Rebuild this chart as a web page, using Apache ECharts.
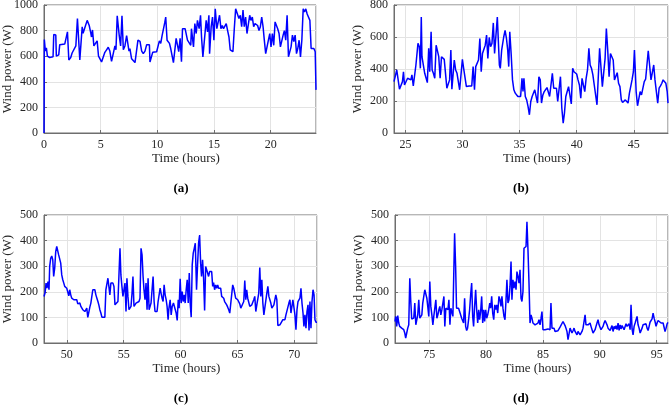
<!DOCTYPE html>
<html>
<head>
<meta charset="utf-8">
<script src="https://cdn.jsdelivr.net/npm/echarts@6/dist/echarts.min.js"></script>
<style>html,body{margin:0;padding:0;background:#fff;}#c{width:669px;height:410px;}</style>
</head>
<body>
<div id="c"></div>
<script>
// ---- DATA (hours, watts) ----
const seriesA = [[0,0],[0.03,730],[0.12,640],[0.21,665],[0.3,600],[0.5,590],[0.8,595],[0.86,770],[1.04,765],[1.09,600],[1.3,610],[1.39,690],[1.83,695],[1.92,700],[2.07,790],[2.19,570],[2.36,590],[2.48,625],[2.63,640],[2.81,680],[2.95,895],[3.07,890],[3.16,570],[3.25,580],[3.37,830],[3.45,780],[3.6,780],[3.81,880],[3.99,840],[4.13,780],[4.19,750],[4.28,805],[4.4,680],[4.55,690],[4.69,720],[4.81,600],[4.93,595],[5.08,555],[5.22,560],[5.37,630],[5.52,650],[5.67,670],[5.81,640],[5.96,560],[6.11,620],[6.26,680],[6.35,650],[6.46,915],[6.55,905],[6.64,760],[6.76,680],[6.88,915],[7.0,650],[7.14,680],[7.29,760],[7.38,760],[7.5,640],[7.58,660],[7.73,580],[7.88,570],[8.03,550],[8.17,560],[8.29,725],[8.47,715],[8.62,640],[8.76,620],[8.91,640],[9.06,690],[9.3,690],[9.35,555],[9.5,550],[9.59,630],[9.94,635],[10.09,640],[10.18,720],[10.3,700],[10.42,760],[10.53,770],[10.65,860],[10.74,905],[10.86,725],[10.92,720],[11.07,700],[11.18,660],[11.33,670],[11.42,550],[11.54,555],[11.66,740],[11.80,750],[11.89,635],[12.01,740],[12.13,557],[12.22,815],[12.45,815],[12.54,800],[12.66,725],[12.81,715],[12.95,685],[13.01,815],[13.10,815],[13.19,673],[13.31,855],[13.43,777],[13.54,880],[13.69,815],[13.81,920],[13.90,750],[14.02,595],[14.16,605],[14.31,880],[14.43,790],[14.55,920],[14.61,620],[14.75,830],[14.87,905],[14.99,725],[15.11,970],[15.25,815],[15.37,815],[15.49,920],[15.61,815],[15.73,840],[15.84,815],[15.96,800],[16.08,855],[16.20,800],[16.32,750],[16.43,650],[16.58,635],[16.67,635],[16.79,815],[16.91,970],[17.08,960],[17.20,895],[17.32,920],[17.44,830],[17.56,960],[17.67,830],[17.79,905],[17.91,777],[18.03,790],[18.15,920],[18.26,880],[18.38,905],[18.50,830],[18.62,855],[18.74,855],[18.85,840],[18.97,800],[19.09,830],[19.21,905],[19.33,830],[19.44,725],[19.56,620],[19.68,610],[19.80,725],[19.92,777],[20.03,673],[20.15,777],[20.27,685],[20.39,868],[20.51,868],[20.62,815],[20.74,777],[20.86,673],[20.98,660],[21.10,765],[21.21,800],[21.33,725],[21.45,920],[21.57,595],[21.69,595],[21.80,673],[21.92,765],[22.04,715],[22.16,765],[22.28,620],[22.39,660],[22.51,725],[22.63,595],[22.75,725],[22.87,970],[22.98,945],[23.10,970],[23.22,930],[23.34,945],[23.46,880],[23.57,660],[23.69,648],[23.81,660],[23.93,635],[24.0,337]];

const seriesB = [[24.0,321],[24.1,332],[24.24,394],[24.39,394],[24.48,274],[24.6,280],[24.74,321],[24.83,383],[24.92,300],[25.04,294],[25.19,342],[25.33,342],[25.48,332],[25.57,363],[25.69,294],[25.83,290],[25.92,425],[26.01,425],[26.1,560],[26.22,539],[26.31,404],[26.39,725],[26.45,477],[26.57,466],[26.69,373],[26.81,363],[26.92,315],[27.04,529],[27.13,383],[27.25,632],[27.34,394],[27.45,373],[27.57,342],[27.69,549],[27.81,549],[27.92,477],[28.04,342],[28.16,477],[28.28,466],[28.4,460],[28.51,460],[28.63,280],[28.75,280],[28.87,332],[28.98,518],[29.07,274],[29.16,280],[29.28,456],[29.4,394],[29.52,373],[29.63,363],[29.75,270],[29.87,270],[29.99,460],[30.1,404],[30.22,394],[30.34,290],[30.46,300],[30.58,294],[30.69,305],[30.81,294],[30.93,415],[31.05,270],[31.16,415],[31.28,404],[31.4,456],[31.52,591],[31.64,383],[31.75,497],[31.87,497],[31.99,549],[32.11,612],[32.22,466],[32.34,597],[32.46,539],[32.58,560],[32.7,688],[32.81,497],[33.05,725],[33.23,425],[33.31,404],[33.43,518],[33.61,600],[33.73,642],[33.85,591],[33.96,518],[34.05,415],[34.14,632],[34.26,497],[34.38,332],[34.5,270],[34.62,249],[34.73,249],[34.85,228],[34.97,218],[35.09,228],[35.21,342],[35.3,259],[35.38,342],[35.5,228],[35.62,207],[35.74,166],[35.86,114],[35.98,197],[36.1,228],[36.21,228],[36.33,270],[36.45,270],[36.57,187],[36.69,352],[36.81,332],[36.92,187],[37.04,238],[37.16,259],[37.28,270],[37.4,284],[37.51,280],[37.63,228],[37.75,228],[37.87,373],[37.99,280],[38.11,280],[38.23,280],[38.34,197],[38.46,187],[38.58,352],[38.7,155],[38.82,62],[38.93,124],[39.05,228],[39.17,259],[39.29,290],[39.41,284],[39.53,182],[39.65,404],[39.76,383],[39.88,373],[40.0,369],[40.12,332],[40.24,300],[40.36,218],[40.47,342],[40.59,300],[40.71,259],[40.83,342],[40.95,394],[41.07,529],[41.18,425],[41.3,404],[41.42,363],[41.54,300],[41.66,290],[41.78,176],[41.89,176],[42.01,529],[42.13,518],[42.25,290],[42.37,280],[42.49,466],[42.6,653],[42.72,518],[42.84,352],[42.96,497],[43.08,487],[43.2,456],[43.31,332],[43.43,342],[43.55,377],[43.67,311],[43.79,290],[43.91,207],[44.02,191],[44.14,197],[44.26,207],[44.38,211],[44.5,187],[44.62,249],[44.73,259],[44.85,332],[44.97,383],[45.06,518],[45.21,259],[45.33,170],[45.44,166],[45.56,259],[45.68,238],[45.8,238],[45.92,321],[46.04,336],[46.15,332],[46.27,514],[46.39,514],[46.51,332],[46.63,332],[46.75,425],[46.86,332],[46.98,332],[47.1,187],[47.22,280],[47.34,294],[47.46,311],[47.57,332],[47.69,342],[47.81,311],[47.93,259],[48.0,187]];

const seriesC = [[48,182],[48.09,195],[48.18,234],[48.26,214],[48.35,240],[48.44,208],[48.5,299],[48.59,331],[48.68,340],[48.77,325],[48.85,260],[48.94,292],[49.03,357],[49.12,377],[49.21,370],[49.29,344],[49.38,344],[49.47,312],[49.56,266],[49.65,247],[49.74,234],[49.82,221],[49.91,218],[50.0,214],[50.09,210],[50.18,184],[50.26,208],[50.35,188],[50.44,175],[50.53,169],[50.62,169],[50.71,175],[50.79,162],[50.88,169],[50.97,153],[51.06,149],[51.15,156],[51.24,143],[51.32,140],[51.41,130],[51.5,123],[51.59,123],[51.68,117],[51.76,136],[51.85,100],[51.94,104],[52.03,140],[52.12,156],[52.21,153],[52.29,208],[52.38,214],[52.47,208],[52.56,188],[52.65,175],[52.74,162],[52.82,149],[52.91,130],[53.0,117],[53.09,101],[53.18,97],[53.26,101],[53.35,101],[53.44,208],[53.53,205],[53.62,253],[53.71,247],[53.79,188],[53.88,234],[53.97,240],[54.06,234],[54.15,221],[54.24,149],[54.32,156],[54.41,156],[54.5,162],[54.59,162],[54.68,370],[54.76,266],[54.85,221],[54.94,182],[55.03,175],[55.12,234],[55.21,123],[55.29,253],[55.38,182],[55.47,130],[55.56,123],[55.65,143],[55.74,195],[55.82,260],[55.91,143],[56.0,136],[56.09,156],[56.18,162],[56.26,156],[56.35,162],[56.44,175],[56.53,370],[56.62,344],[56.71,260],[56.79,208],[56.88,169],[56.97,234],[57.06,130],[57.15,253],[57.24,130],[57.32,130],[57.41,156],[57.5,149],[57.59,260],[57.68,162],[57.76,123],[57.85,117],[57.94,123],[58.03,162],[58.12,156],[58.21,214],[58.29,195],[58.38,175],[58.47,162],[58.56,227],[58.65,188],[58.74,169],[58.82,143],[58.91,91],[58.97,130],[59.09,169],[59.18,110],[59.27,143],[59.38,156],[59.5,149],[59.62,117],[59.71,88],[59.8,169],[59.88,136],[59.97,251],[60.06,156],[60.15,201],[60.24,162],[60.33,188],[60.41,156],[60.5,208],[60.59,247],[60.68,156],[60.77,273],[60.85,156],[60.94,101],[61.03,305],[61.12,351],[61.21,370],[61.3,390],[61.41,208],[61.5,305],[61.59,390],[61.68,422],[61.77,312],[61.85,260],[61.94,325],[62.03,253],[62.12,127],[62.21,299],[62.3,286],[62.38,292],[62.47,260],[62.56,279],[62.65,273],[62.74,279],[62.83,221],[62.91,236],[63.0,208],[63.09,227],[63.18,214],[63.27,227],[63.35,214],[63.44,221],[63.53,214],[63.62,182],[63.71,175],[63.8,175],[63.88,162],[63.97,162],[64.06,149],[64.15,140],[64.24,130],[64.33,117],[64.41,110],[64.5,110],[64.59,227],[64.68,214],[64.77,221],[64.85,175],[64.94,175],[65.03,169],[65.12,162],[65.21,153],[65.3,136],[65.38,143],[65.47,130],[65.56,162],[65.65,244],[65.74,169],[65.82,208],[65.91,175],[66.0,182],[66.09,143],[66.18,136],[66.27,149],[66.35,143],[66.44,169],[66.53,182],[66.62,123],[66.71,149],[66.8,156],[66.88,195],[66.97,295],[67.06,182],[67.15,247],[67.24,156],[67.33,110],[67.41,104],[67.5,110],[67.59,195],[67.68,221],[67.77,182],[67.85,175],[67.94,156],[68.03,136],[68.12,143],[68.21,149],[68.3,143],[68.38,188],[68.47,169],[68.56,68],[68.65,71],[68.74,71],[68.83,78],[68.91,75],[69.0,91],[69.09,97],[69.18,91],[69.27,110],[69.35,117],[69.44,110],[69.53,156],[69.62,169],[69.71,117],[69.8,110],[69.88,169],[69.97,162],[70.06,110],[70.15,52],[70.24,130],[70.33,162],[70.41,169],[70.5,175],[70.59,214],[70.68,156],[70.77,117],[70.85,65],[70.94,110],[71.03,58],[71.12,123],[71.21,149],[71.3,49],[71.38,162],[71.47,58],[71.56,162],[71.65,208],[71.74,188],[71.82,91],[71.91,81],[72,81]];

const seriesD = [[72,84],[72.06,104],[72.15,65],[72.24,107],[72.33,78],[72.41,65],[72.5,62],[72.59,58],[72.68,58],[72.77,52],[72.86,39],[72.94,19],[73.03,39],[73.12,58],[73.21,71],[73.3,253],[73.38,169],[73.47,94],[73.56,91],[73.65,97],[73.74,156],[73.83,71],[73.91,78],[74.0,110],[74.09,169],[74.18,97],[74.27,104],[74.36,110],[74.44,156],[74.53,182],[74.62,208],[74.71,201],[74.8,175],[74.88,143],[74.97,104],[75.06,240],[75.15,143],[75.24,110],[75.33,71],[75.41,104],[75.5,110],[75.59,169],[75.68,97],[75.77,110],[75.86,130],[75.94,143],[76.03,110],[76.12,130],[76.21,156],[76.3,182],[76.38,65],[76.47,136],[76.56,130],[76.65,130],[76.74,169],[76.83,71],[76.91,136],[77.0,143],[77.09,104],[77.18,110],[77.24,429],[77.33,299],[77.41,136],[77.5,130],[77.59,136],[77.68,123],[77.77,117],[77.86,97],[77.94,91],[78.03,78],[78.12,175],[78.21,65],[78.3,49],[78.38,58],[78.47,91],[78.56,130],[78.65,188],[78.74,234],[78.83,104],[78.91,65],[79.0,143],[79.09,208],[79.18,130],[79.27,78],[79.36,130],[79.44,91],[79.53,123],[79.62,182],[79.71,78],[79.8,130],[79.88,84],[79.97,130],[80.06,97],[80.15,110],[80.24,130],[80.33,156],[80.41,136],[80.5,182],[80.59,117],[80.68,91],[80.77,149],[80.86,130],[80.94,149],[81.03,117],[81.14,182],[81.23,169],[81.32,143],[81.4,182],[81.49,136],[81.58,104],[81.67,91],[81.76,169],[81.84,247],[81.93,156],[82.02,169],[82.11,221],[82.2,318],[82.28,169],[82.37,247],[82.46,214],[82.55,240],[82.64,208],[82.72,279],[82.81,260],[82.9,234],[82.99,286],[83.08,175],[83.16,162],[83.25,201],[83.34,370],[83.43,366],[83.52,377],[83.6,474],[83.69,364],[83.78,234],[83.87,78],[83.96,110],[84.04,97],[84.13,78],[84.22,84],[84.31,71],[84.4,65],[84.48,68],[84.57,78],[84.66,91],[84.75,71],[84.84,97],[84.92,123],[85.01,52],[85.1,45],[85.19,52],[85.27,45],[85.36,58],[85.45,55],[85.54,58],[85.63,52],[85.71,156],[85.8,58],[85.89,65],[85.98,58],[86.07,45],[86.15,39],[86.24,39],[86.33,48],[86.42,55],[86.51,62],[86.59,58],[86.68,65],[86.77,84],[86.86,78],[86.95,68],[87.03,58],[87.12,45],[87.21,13],[87.3,19],[87.39,58],[87.47,58],[87.56,39],[87.65,48],[87.74,58],[87.83,45],[87.91,39],[88.0,32],[88.09,45],[88.18,45],[88.27,32],[88.35,39],[88.44,45],[88.53,58],[88.62,58],[88.71,110],[88.79,71],[88.88,78],[88.97,71],[89.06,78],[89.15,78],[89.23,65],[89.32,65],[89.41,39],[89.5,45],[89.59,52],[89.67,65],[89.76,78],[89.85,91],[89.94,71],[90.03,65],[90.11,52],[90.2,52],[90.29,65],[90.38,78],[90.47,88],[90.55,81],[90.64,71],[90.73,58],[90.82,55],[90.91,49],[90.99,58],[91.08,68],[91.17,45],[91.26,65],[91.35,55],[91.43,68],[91.52,52],[91.61,78],[91.7,49],[91.79,71],[91.87,55],[91.96,68],[92.05,71],[92.14,52],[92.23,58],[92.31,75],[92.4,65],[92.49,58],[92.58,75],[92.67,52],[92.75,149],[92.84,55],[92.93,32],[93.02,65],[93.11,78],[93.19,84],[93.28,104],[93.37,71],[93.46,58],[93.55,39],[93.63,32],[93.72,58],[93.81,71],[93.9,65],[93.98,65],[94.07,75],[94.16,58],[94.25,49],[94.34,65],[94.42,81],[94.51,88],[94.6,94],[94.69,117],[94.78,97],[94.86,84],[94.95,65],[95.04,78],[95.13,88],[95.22,91],[95.3,88],[95.39,78],[95.48,71],[95.57,78],[95.66,71],[95.74,45],[95.83,58],[95.92,75],[96.0,81]];

const xRanges = [[0,24],[24,48],[48,72],[72,96]];
const yMaxes = [1000, 800, 500, 500];
const yIntervals = [200, 200, 100, 100];
const panelLabels = ['(a)', '(b)', '(c)', '(d)'];
const xTitle = 'Time (hours)';
const yTitle = 'Wind power (W)';

// ---- LAYOUT ----
const grids = [
  {left: 44, top: 5, width: 272, height: 128},
  {left: 394, top: 5, width: 274, height: 128},
  {left: 44, top: 215, width: 273, height: 128},
  {left: 395, top: 215, width: 273, height: 128}
];
const labelPos = [[181, 189], [521, 189], [181, 399], [521, 399]];
const FONT = '"Liberation Serif", "Times New Roman", serif';
const TXT = '#262626';
const FRAME = '#6e6e6e';
const GRIDC = '#e3e3e3';

const allData = [seriesA, seriesB, seriesC, seriesD];
const chart = echarts.init(document.getElementById('c'), null, {renderer: 'canvas'});
const option = {
  animation: false,
  backgroundColor: '#ffffff',
  grid: grids.map(g => Object.assign({show: true, borderColor: FRAME, borderWidth: 1, backgroundColor: 'transparent', containLabel: false, outerBoundsMode: 'none'}, g)),
  xAxis: xRanges.map((r, i) => ({
    type: 'value', gridIndex: i, min: r[0], max: r[1], splitNumber: 5,
    name: xTitle, nameLocation: 'middle', nameGap: 19, nameMoveOverlap: false,
    nameTextStyle: {fontFamily: FONT, fontSize: 13, color: TXT, padding: [0, 0, 0, 12]},
    axisLine: {show: true, lineStyle: {color: FRAME, width: 1}},
    axisTick: {show: true, inside: true, length: 3, lineStyle: {color: FRAME}},
    splitLine: {show: true, lineStyle: {color: GRIDC, width: 1}},
    axisLabel: {fontFamily: FONT, fontSize: 12, color: TXT, margin: 6, showMinLabel: i === 0, showMaxLabel: false,
      formatter: v => String(Math.round(v))}
  })),
  yAxis: yMaxes.map((m, i) => ({
    type: 'value', gridIndex: i, min: 0, max: m, interval: yIntervals[i],
    name: yTitle, nameLocation: 'middle', nameGap: 30, nameMoveOverlap: false,
    nameTextStyle: {fontFamily: FONT, fontSize: 13, color: TXT},
    axisLine: {show: true, lineStyle: {color: FRAME, width: 1}},
    axisTick: {show: true, inside: true, length: 3, lineStyle: {color: FRAME}},
    splitLine: {show: true, lineStyle: {color: GRIDC, width: 1}},
    axisLabel: {fontFamily: FONT, fontSize: 12, color: TXT, margin: 6, formatter: v => String(Math.round(v))}
  })),
  series: allData.map((d, i) => ({
    type: 'line', xAxisIndex: i, yAxisIndex: i, data: d,
    showSymbol: false, symbol: 'none', clip: true,
    lineStyle: {color: '#0000ff', width: 1.5}
  })),
  graphic: panelLabels.map((t, i) => ({
    type: 'text', x: labelPos[i][0], y: labelPos[i][1],
    style: {text: t, fontFamily: FONT, fontSize: 13, fontWeight: 'bold', fill: '#000', align: 'center', verticalAlign: 'middle'}
  }))
};
chart.setOption(option);
</script>
</body>
</html>
